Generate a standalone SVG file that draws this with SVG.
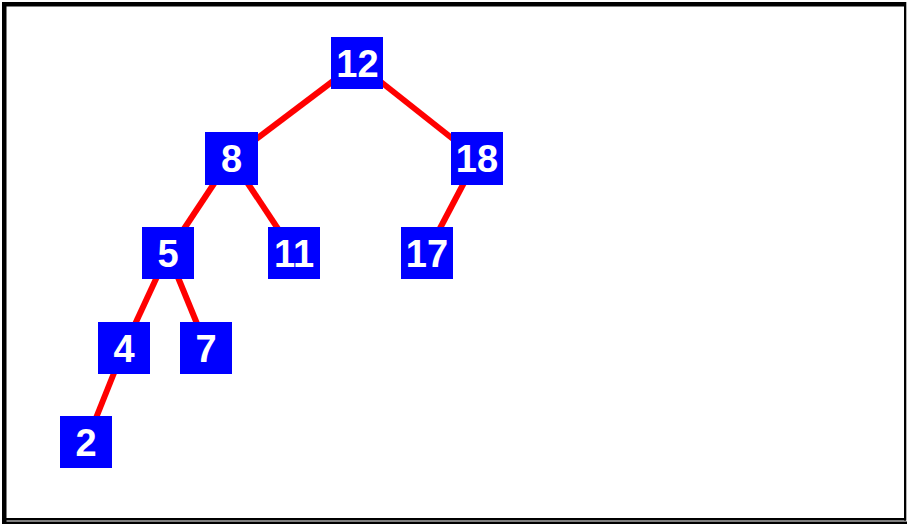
<svg xmlns="http://www.w3.org/2000/svg" width="907" height="524" viewBox="0 0 907 524">
<style>
.frame{fill:#000}
.edge{stroke:#ff0000;stroke-width:6;fill:none}
.box{fill:#0000ff}
.lbl{fill:#fff;font-family:"Liberation Sans",Arial,sans-serif;font-weight:bold;font-size:38px;text-anchor:middle}
</style>
<rect width="907" height="524" fill="#fff"/>
<g id="frame">
<rect class="frame" x="2" y="2" width="904" height="4.5"/>
<rect class="frame" x="2" y="2" width="4.5" height="520"/>
<rect class="frame" x="904" y="2" width="2.3" height="518.5"/>
<rect class="frame" x="6" y="518" width="900" height="2.5"/>
<rect class="frame" x="2" y="521.5" width="905" height="2.5"/>
</g>
<g id="connectors">
<line class="edge" x1="357" y1="63" x2="231" y2="158"/>
<line class="edge" x1="357" y1="63" x2="477" y2="158"/>
<line class="edge" x1="231" y1="158" x2="168" y2="253"/>
<line class="edge" x1="231" y1="158" x2="294" y2="253"/>
<line class="edge" x1="477" y1="158" x2="427" y2="253"/>
<line class="edge" x1="168" y1="253" x2="124" y2="348"/>
<line class="edge" x1="168" y1="253" x2="207" y2="348"/>
<line class="edge" x1="124" y1="348" x2="86" y2="443"/>
</g>
<g id="n12"><rect class="box" x="331" y="37" width="52" height="52"/><text class="lbl" x="357.5" y="77">12</text></g>
<g id="n8"><rect class="box" x="205" y="132" width="53" height="53"/><text class="lbl" x="231.5" y="172">8</text></g>
<g id="n18"><rect class="box" x="451" y="132" width="52" height="53"/><text class="lbl" x="477" y="172">18</text></g>
<g id="n5"><rect class="box" x="142" y="227" width="52" height="52"/><text class="lbl" x="168" y="267">5</text></g>
<g id="n11"><rect class="box" x="268" y="227" width="52" height="52"/><text class="lbl" x="294" y="267">11</text></g>
<g id="n17"><rect class="box" x="401" y="227" width="52" height="52"/><text class="lbl" x="427" y="267">17</text></g>
<g id="n4"><rect class="box" x="98" y="322" width="52" height="52"/><text class="lbl" x="124" y="362">4</text></g>
<g id="n7"><rect class="box" x="180" y="322" width="52" height="52"/><text class="lbl" x="206" y="362">7</text></g>
<g id="n2"><rect class="box" x="60" y="416" width="52" height="52"/><text class="lbl" x="86" y="456">2</text></g>
</svg>
